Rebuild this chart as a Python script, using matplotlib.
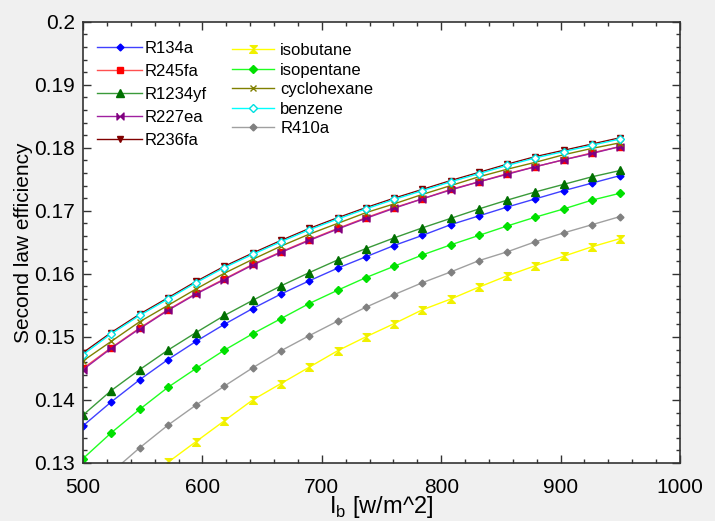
import numpy as np
import matplotlib
matplotlib.use("Agg")
import matplotlib.pyplot as plt
from matplotlib.ticker import MultipleLocator

plt.rcParams['font.family'] = ['Liberation Sans', 'DejaVu Sans']

irradiance = [500.0, 523.7, 547.4, 571.1, 594.7, 618.4, 642.1, 665.8, 689.5, 713.2,
              736.8, 760.5, 784.2, 807.9, 831.6, 855.3, 878.9, 902.6, 926.3, 950.0]

r134a = [0.1359, 0.1397, 0.1432, 0.1464, 0.1493, 0.1520, 0.1545, 0.1568, 0.1589, 0.1609,
         0.1627, 0.1645, 0.1661, 0.1678, 0.1692, 0.1706, 0.1719, 0.1732, 0.1744, 0.1756]
r245fa = [0.1450, 0.1483, 0.1514, 0.1543, 0.1569, 0.1592, 0.1615, 0.1635, 0.1654, 0.1672,
          0.1689, 0.1705, 0.1719, 0.1734, 0.1746, 0.1759, 0.1770, 0.1781, 0.1792, 0.1802]
r1234yf = [0.1376, 0.1415, 0.1448, 0.1479, 0.1507, 0.1534, 0.1558, 0.1581, 0.1602, 0.1622,
           0.1640, 0.1657, 0.1673, 0.1688, 0.1703, 0.1717, 0.1730, 0.1742, 0.1754, 0.1764]
r227ea = [0.1448, 0.1482, 0.1513, 0.1542, 0.1568, 0.1591, 0.1614, 0.1634, 0.1653, 0.1671,
          0.1688, 0.1704, 0.1719, 0.1733, 0.1746, 0.1758, 0.1770, 0.1781, 0.1791, 0.1802]
r236fa = [0.1475, 0.1507, 0.1536, 0.1562, 0.1588, 0.1612, 0.1633, 0.1653, 0.1672, 0.1689,
          0.1705, 0.1720, 0.1734, 0.1748, 0.1761, 0.1774, 0.1786, 0.1796, 0.1806, 0.1816]
isobutane = [0.1179, 0.1222, 0.1264, 0.1301, 0.1334, 0.1367, 0.1400, 0.1426, 0.1452, 0.1478,
             0.1500, 0.1521, 0.1543, 0.1560, 0.1579, 0.1597, 0.1613, 0.1628, 0.1643, 0.1656]
isopentane = [0.1307, 0.1348, 0.1385, 0.1420, 0.1450, 0.1479, 0.1505, 0.1529, 0.1553, 0.1574,
              0.1594, 0.1612, 0.1630, 0.1646, 0.1661, 0.1676, 0.1690, 0.1703, 0.1717, 0.1728]
cyclohexane = [0.1462, 0.1493, 0.1524, 0.1550, 0.1576, 0.1601, 0.1623, 0.1644, 0.1663, 0.1680,
               0.1697, 0.1711, 0.1726, 0.1740, 0.1754, 0.1766, 0.1777, 0.1789, 0.1799, 0.1808]
benzene = [0.1472, 0.1505, 0.1534, 0.1560, 0.1586, 0.1610, 0.1631, 0.1651, 0.1670, 0.1687,
           0.1703, 0.1718, 0.1732, 0.1746, 0.1759, 0.1772, 0.1784, 0.1794, 0.1804, 0.1814]
r410a = [0.1245, 0.1285, 0.1324, 0.1360, 0.1392, 0.1422, 0.1451, 0.1478, 0.1502, 0.1525,
         0.1547, 0.1567, 0.1586, 0.1603, 0.1621, 0.1635, 0.1651, 0.1665, 0.1678, 0.1691]

bowtie = [(-1, 1), (-1, -1), (0, 0), (1, -1), (1, 1), (0, 0)]
hourglass = [(-1, 1), (1, 1), (0, 0), (1, -1), (-1, -1), (0, 0)]

series1 = [
    ("R134a", r134a, "#4040ff", "#0000ff", "D", 3.5, "#0000ff"),
    ("R245fa", r245fa, "#ff5050", "#ff0000", "s", 5, "#ff0000"),
    ("R1234yf", r1234yf, "#3a9a3a", "#007000", "^", 5.5, "#007000"),
    ("R227ea", r227ea, "#a020a0", "#800080", bowtie, 5, "#800080"),
    ("R236fa", r236fa, "#800000", "#800000", "v", 5, "#800000"),
]
series2 = [
    ("isobutane", isobutane, "#ffff00", "#f0f000", hourglass, 5.5, "#f0f000"),
    ("isopentane", isopentane, "#20ff20", "#00e000", "D", 4, "#00e000"),
    ("cyclohexane", cyclohexane, "#808000", "#808000", "x", 5, "#808000"),
    ("benzene", benzene, "#00ffff", "#00e0e0", "D", 4.5, "white"),
    ("R410a", r410a, "#a0a0a0", "#808080", "D", 3.5, "#808080"),
]

fig = plt.figure(figsize=(7.15, 5.21), dpi=100)
fig.patch.set_facecolor("#f0f0f0")
ax = fig.add_axes([83 / 715, 1 - 463 / 521, (680 - 83) / 715, (463 - 21.7) / 521])
ax.set_facecolor("white")

h1, h2 = [], []
for group, store in ((series1, h1), (series2, h2)):
    for name, vals, lc, mc, mk, ms, fc in group:
        ln, = ax.plot(irradiance, vals, color=lc, lw=1.0, marker=mk, markersize=ms,
                      markeredgecolor=mc, markerfacecolor=fc, markeredgewidth=1.0,
                      label=name, clip_on=True)
        store.append(ln)

ax.set_xlim(500, 1000)
ax.set_ylim(0.13, 0.2)
ax.xaxis.set_major_locator(MultipleLocator(100))
ax.xaxis.set_minor_locator(MultipleLocator(20))
ax.yaxis.set_minor_locator(MultipleLocator(0.002))
ax.set_yticks([0.13, 0.14, 0.15, 0.16, 0.17, 0.18, 0.19, 0.2])
ax.set_yticklabels(["0.13", "0.14", "0.15", "0.16", "0.17", "0.18", "0.19", "0.2"])
ax.tick_params(which="both", direction="in", top=True, right=True, labelsize=15,
               colors="#333333", labelcolor="black")
ax.tick_params(which="major", length=6, width=1)
ax.tick_params(which="minor", length=3, width=1)
ax.tick_params(axis="x", which="major", pad=11)
ax.tick_params(axis="y", which="major", pad=6)
for s in ax.spines.values():
    s.set_color("#333333")
    s.set_linewidth(1.2)

ax.set_xlabel(r"I$_\mathregular{b}$ [w/m^2]", fontsize=17, labelpad=-2)
ax.set_ylabel("Second law efficiency", fontsize=15, labelpad=1)

leg1 = ax.legend(handles=h1, loc="upper left", bbox_to_anchor=(97 / 715, 1 - 41 / 521),
                 bbox_transform=fig.transFigure, frameon=False, fontsize=12,
                 handlelength=2.7, handletextpad=0.15, labelspacing=0.48,
                 borderpad=0, borderaxespad=0)
ax.add_artist(leg1)
leg2 = ax.legend(handles=h2, loc="upper left", bbox_to_anchor=(232 / 715, 1 - 43 / 521),
                 bbox_transform=fig.transFigure, frameon=False, fontsize=12,
                 handlelength=2.5, handletextpad=0.4, labelspacing=0.27,
                 borderpad=0, borderaxespad=0)

fig.savefig("out.png", dpi=100, facecolor=fig.get_facecolor())
